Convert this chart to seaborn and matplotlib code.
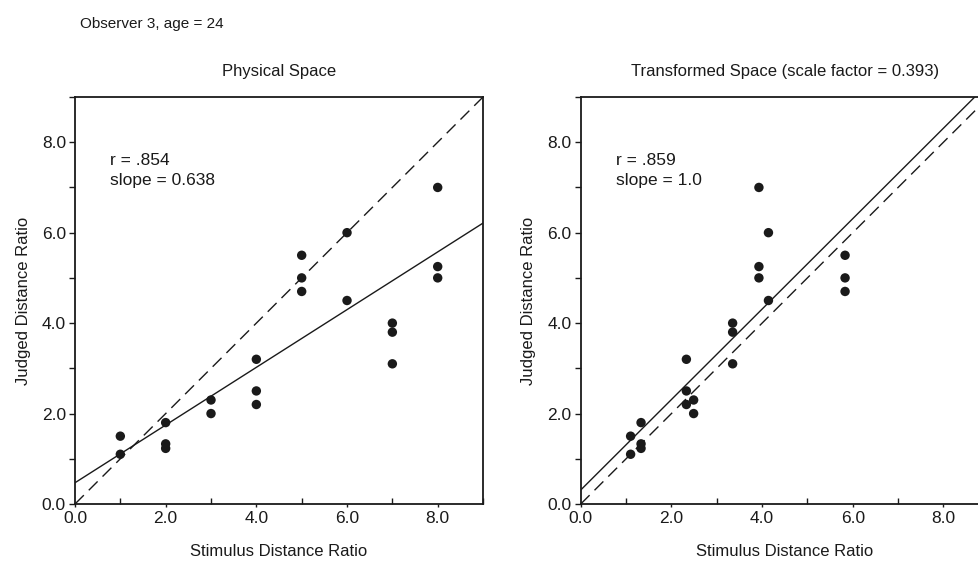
import numpy as np
import pandas as pd
import matplotlib
matplotlib.use("Agg")
import matplotlib.pyplot as plt
import seaborn as sns
from matplotlib.ticker import MultipleLocator, FormatStrFormatter

# judged ratios per stimulus pair
stimulus = [1, 1, 2, 2, 2, 3, 3, 4, 4, 4, 5, 5, 5, 6, 6, 7, 7, 7, 8, 8, 8]
judged = [1.5, 1.1, 1.8, 1.33, 1.23, 2.3, 2.0, 3.2, 2.5, 2.2,
          5.5, 5.0, 4.7, 6.0, 4.5, 4.0, 3.8, 3.1, 7.0, 5.25, 5.0]
transformed = [1.1, 1.1, 1.33, 1.33, 1.33, 2.49, 2.49, 2.33, 2.33, 2.33,
               5.83, 5.83, 5.83, 4.14, 4.14, 3.35, 3.35, 3.35, 3.93, 3.93, 3.93]

phys_fit = (0.47, 0.638)   # intercept, slope
trans_fit = (0.31, 1.0)
stats_text = ["r = .854\nslope = 0.638", "r = .859\nslope = 1.0"]
titles = ["Physical Space", "Transformed Space (scale factor = 0.393)"]

sns.set_style("ticks")
plt.rcParams["font.family"] = ["Liberation Sans", "DejaVu Sans"]
plt.rcParams["text.color"] = "#1a1a1a"
plt.rcParams["axes.labelcolor"] = "#1a1a1a"

df = pd.DataFrame({"stimulus": stimulus, "transformed": transformed, "judged": judged})

fig = plt.figure(figsize=(9.79, 5.61), dpi=100)
ax1 = fig.add_axes([0.0766, 0.1016, 0.4168, 0.7255])
ax2 = fig.add_axes([0.5932, 0.1016, 0.4168, 0.7255])

for ax, xcol, fit, txt, title in zip([ax1, ax2], ["stimulus", "transformed"],
                                     [phys_fit, trans_fit], stats_text, titles):
    sns.scatterplot(data=df, x=xcol, y="judged", ax=ax, color="#1a1a1a",
                    s=46, edgecolor="none", zorder=3)
    ax.axline((0, 0), slope=1, color="#1a1a1a", lw=1.0, dashes=(9, 5))
    ax.axline((0, fit[0]), slope=fit[1], color="#1a1a1a", lw=1.0)
    ax.set_xlim(0, 9)
    ax.set_ylim(0, 9)
    ax.xaxis.set_major_locator(MultipleLocator(2))
    ax.xaxis.set_minor_locator(MultipleLocator(1))
    ax.yaxis.set_major_locator(MultipleLocator(2))
    ax.yaxis.set_minor_locator(MultipleLocator(1))
    ax.xaxis.set_major_formatter(FormatStrFormatter("%.1f"))
    ax.yaxis.set_major_formatter(FormatStrFormatter("%.1f"))
    ax.tick_params(axis="x", which="major", direction="out", length=2, width=1.0,
                   labelsize=12.5, pad=3, colors="#1a1a1a")
    ax.tick_params(axis="x", which="minor", direction="in", length=4, width=1.0,
                   colors="#1a1a1a")
    ax.tick_params(axis="y", which="both", direction="out", length=4.5, width=1.0,
                   labelsize=12.5, pad=2, colors="#1a1a1a")
    for sp in ax.spines.values():
        sp.set_visible(True)
        sp.set_linewidth(1.3)
        sp.set_color("#1a1a1a")
    ax.set_xlabel("Stimulus Distance Ratio", fontsize=12, labelpad=13)
    ax.set_ylabel("Judged Distance Ratio", fontsize=12, labelpad=8)
    ax.set_title(title, fontsize=12, pad=15)
    ax.text(0.78, 7.38, txt, fontsize=12.5, va="center", ha="left", linespacing=1.45)

fig.text(0.082, 0.958, "Observer 3, age = 24", fontsize=11, va="center", ha="left")

fig.savefig("out.png", dpi=100)
